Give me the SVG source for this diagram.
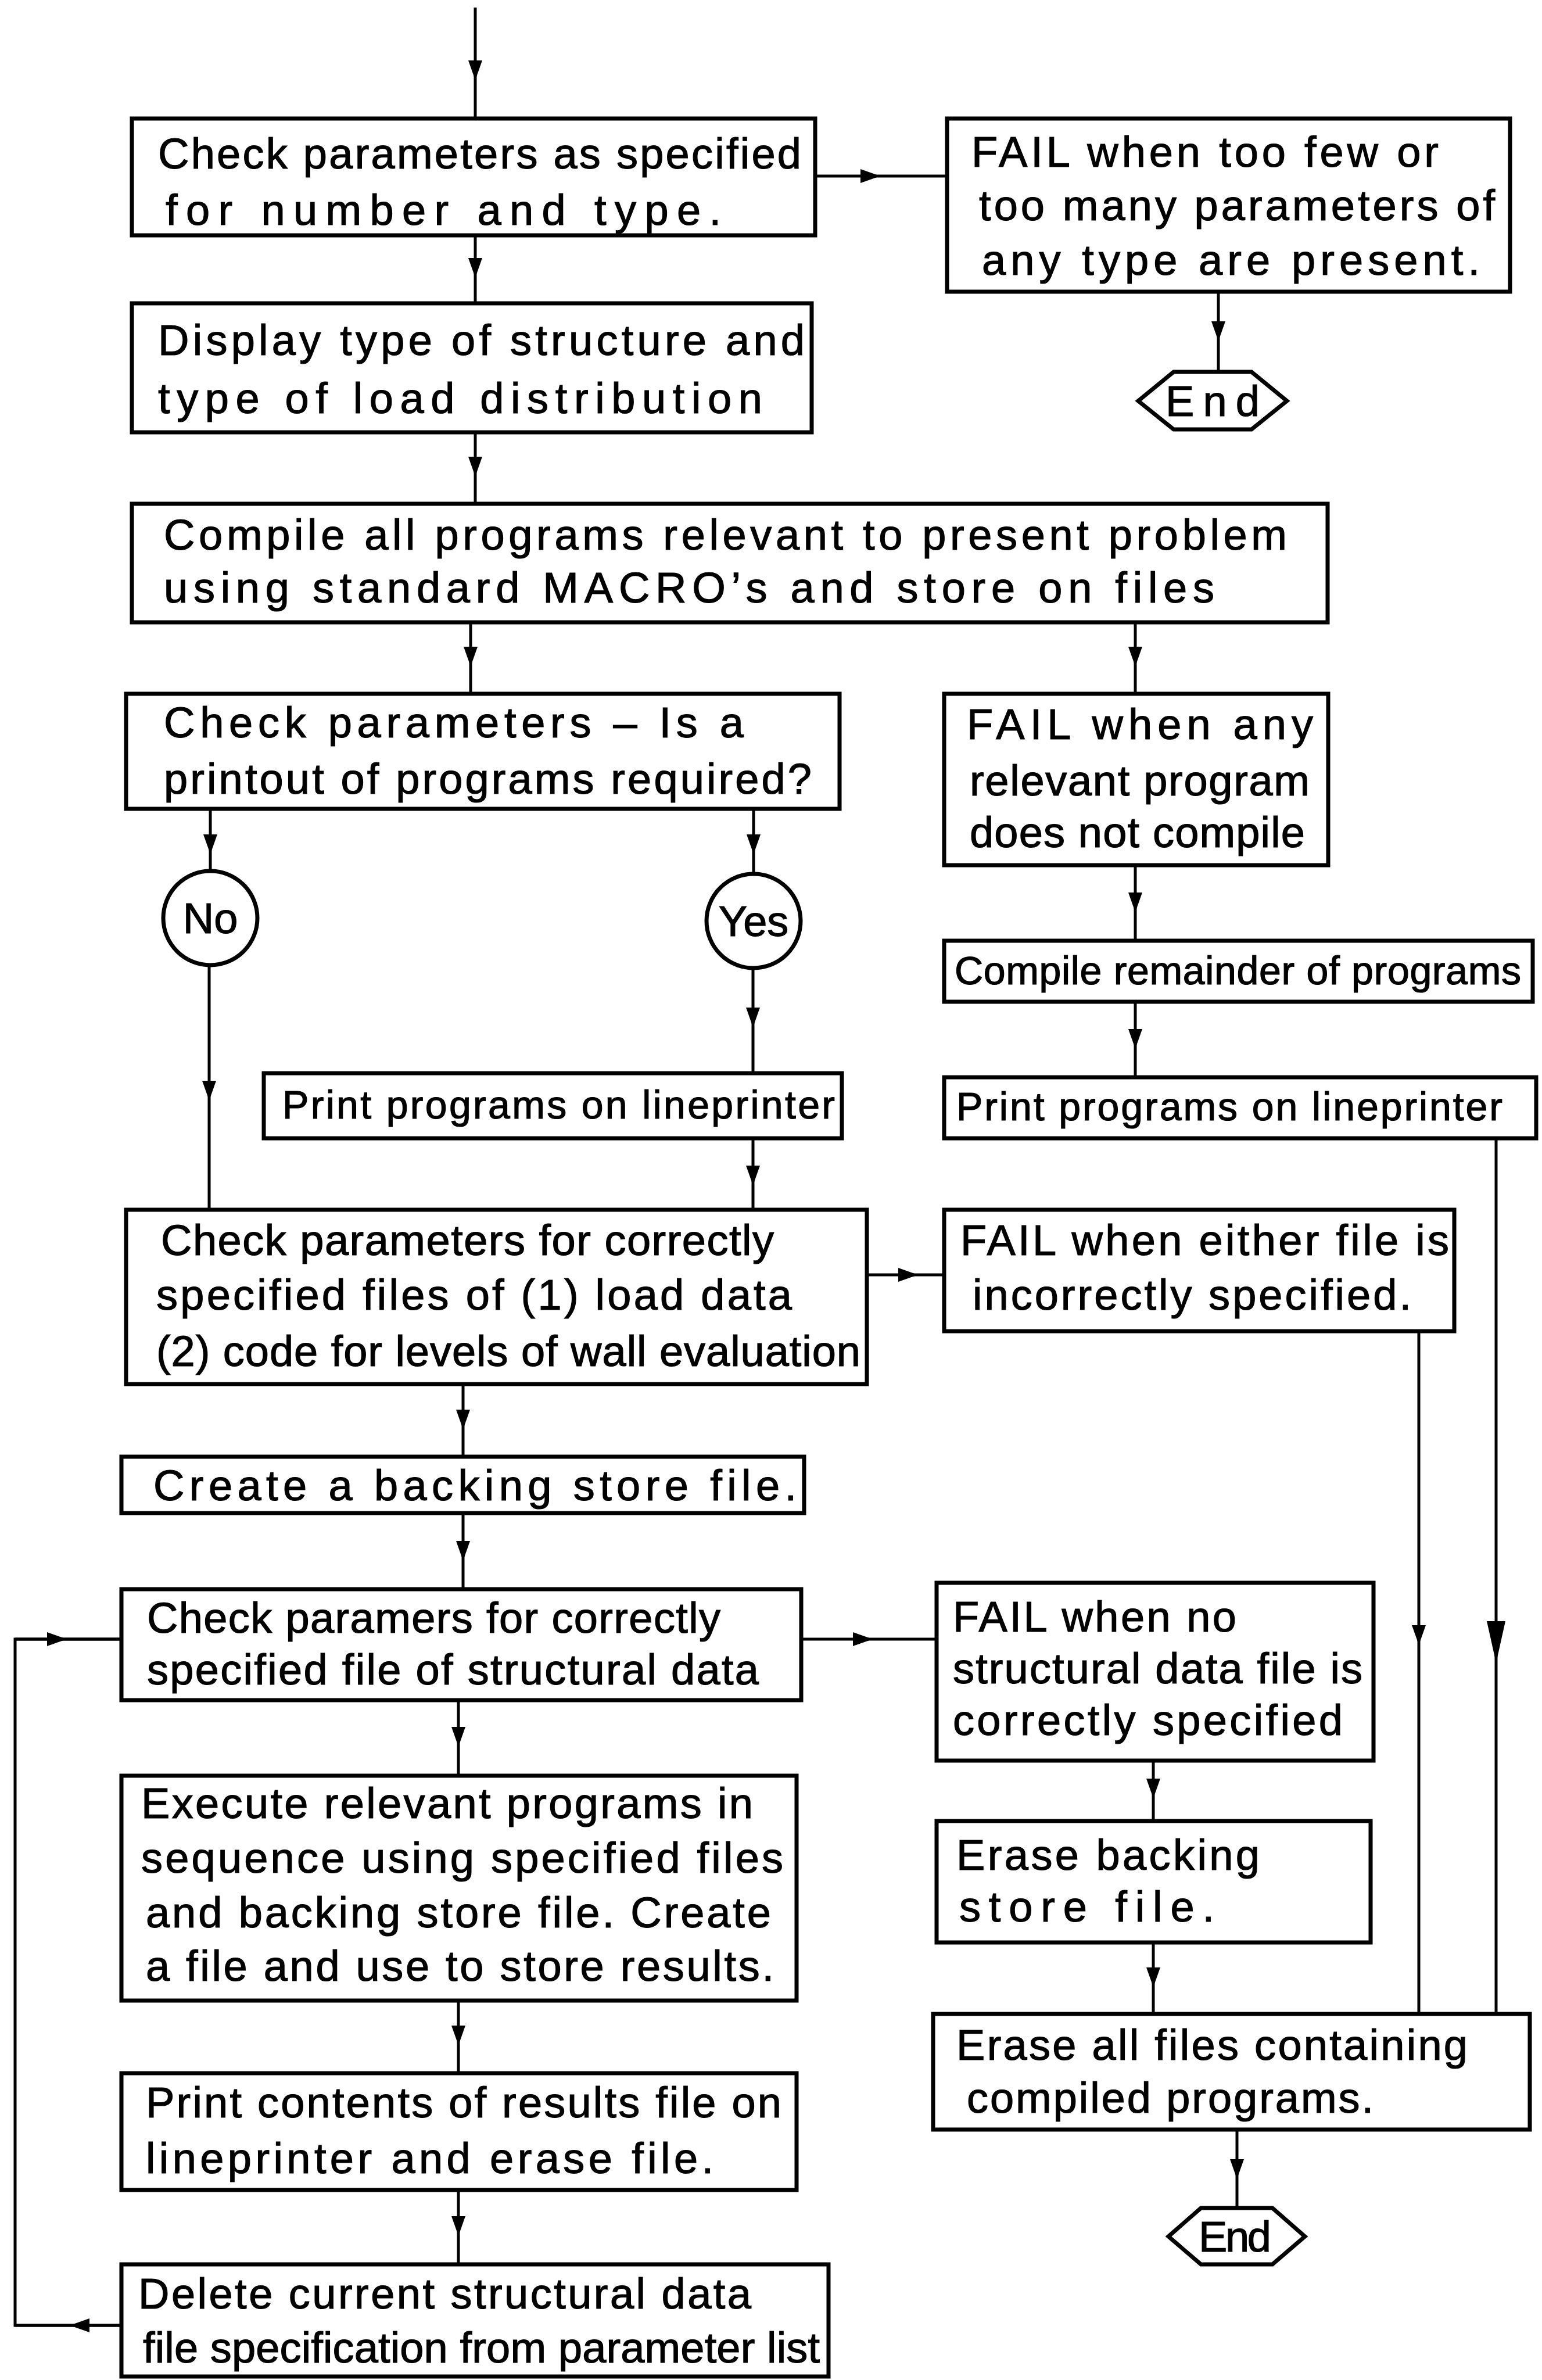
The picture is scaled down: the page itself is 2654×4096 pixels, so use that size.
<svg xmlns="http://www.w3.org/2000/svg" width="2654" height="4096" viewBox="0 0 2654 4096">
<defs>
<marker id="ah" viewBox="0 -13 34 26" markerWidth="34" markerHeight="26" refX="34" refY="0" orient="auto" markerUnits="userSpaceOnUse"><path d="M0,-12 L34,0 L0,12 Z" fill="#000"/></marker>
<marker id="ahw" viewBox="0 -17 72 34" markerWidth="72" markerHeight="34" refX="72" refY="0" orient="auto" markerUnits="userSpaceOnUse"><path d="M0,-16 L72,0 L0,16 Z" fill="#000"/></marker>
<style>
.box{fill:#fff;stroke:#000;stroke-width:7}
.c{fill:none;stroke:#000;stroke-width:5;marker-mid:url(#ah)}
.cw{fill:none;stroke:#000;stroke-width:5;marker-mid:url(#ahw)}
.ln{fill:none;stroke:#000;stroke-width:5}
.t{font-family:"Liberation Sans",Arial,sans-serif;font-size:74px;fill:#000;stroke:#000;stroke-width:1.2}
.s{font-size:68px}
.m{text-anchor:middle}
</style>
</defs>
<rect width="2654" height="4096" fill="#fff"/>
<g id="connectors">
<polyline class="c" points="818,13 818,138 818,204"/>
<polyline class="c" points="818,405 818,478 818,522"/>
<polyline class="c" points="818,744 818,820 818,867"/>
<polyline class="c" points="810,1071 810,1147 810,1194"/>
<polyline class="c" points="1954,1071 1954,1147 1954,1194"/>
<polyline class="c" points="2097,502 2097,587 2097,640"/>
<polyline class="c" points="362,1392 362,1470 362,1499"/>
<polyline class="c" points="360,1661 360,1894 360,2082"/>
<polyline class="c" points="1297,1392 1297,1470 1297,1504"/>
<polyline class="c" points="1296,1666 1296,1768 1296,1847"/>
<polyline class="c" points="1296,1959 1296,2040 1296,2082"/>
<polyline class="c" points="1954,1489 1954,1570 1954,1619"/>
<polyline class="c" points="1954,1724 1954,1805 1954,1854"/>
<polyline class="cw" points="2575,1959 2575,2862 2575,3466"/>
<polyline class="c" points="2442,2291 2442,2831 2442,3466"/>
<polyline class="c" points="797,2382 797,2460 797,2507"/>
<polyline class="c" points="797,2604 797,2686 797,2735"/>
<polyline class="c" points="789,2926 789,3006 789,3056"/>
<polyline class="c" points="789,3443 789,3520 789,3568"/>
<polyline class="c" points="789,3769 789,3848 789,3897"/>
<polyline class="c" points="1985,3030 1985,3095 1985,3134"/>
<polyline class="c" points="1985,3343 1985,3420 1985,3466"/>
<polyline class="c" points="2129,3665 2129,3750 2129,3800"/>
<polyline class="c" points="1403,303 1515,303 1630,303"/>
<polyline class="c" points="1492,2194 1580,2194 1625,2194"/>
<polyline class="c" points="1379,2821 1502,2821 1612,2821"/>
<path class="ln" d="M209,4002 H26 V2821 H209"/>
<polyline class="c" points="26,2821 115,2821 209,2821"/>
<polyline class="c" points="209,4002 120,4002 26,4002"/>
</g>
<g id="check-count">
<rect class="box" x="227" y="204" width="1176" height="201"/>
<text class="t" x="272" y="290" textLength="1107">Check parameters as specified</text>
<text class="t" x="285" y="387" textLength="956">for number and type.</text>
</g>
<g id="fail-count">
<rect class="box" x="1630" y="204" width="969" height="298"/>
<text class="t" x="1672" y="287" textLength="804">FAIL when too few or</text>
<text class="t" x="1685" y="379" textLength="888">too many parameters of</text>
<text class="t" x="1690" y="473" textLength="857">any type are present.</text>
</g>
<g id="end-1">
<polygon class="box" points="1959,690 2020,640 2154,640 2215,690 2154,739 2020,739"/>
<text class="t" x="2006" y="716" textLength="162">End</text>
</g>
<g id="display">
<rect class="box" x="227" y="522" width="1170" height="222"/>
<text class="t" x="272" y="611" textLength="1113">Display type of structure and</text>
<text class="t" x="272" y="711" textLength="1040">type of load distribution</text>
</g>
<g id="compile">
<rect class="box" x="227" y="867" width="2058" height="204"/>
<text class="t" x="282" y="946" textLength="1933">Compile all programs relevant to present problem</text>
<text class="t" x="282" y="1037" textLength="1808">using standard MACRO’s and store on files</text>
</g>
<g id="check-printout">
<rect class="box" x="217" y="1194" width="1228" height="198"/>
<text class="t" x="282" y="1269" textLength="998">Check parameters – Is a</text>
<text class="t" x="282" y="1366" textLength="1115">printout of programs required?</text>
</g>
<g id="fail-compile">
<rect class="box" x="1625" y="1194" width="661" height="295"/>
<text class="t" x="1664" y="1272" textLength="596">FAIL when any</text>
<text class="t" x="1669" y="1369" textLength="585">relevant program</text>
<text class="t" x="1669" y="1458" textLength="577">does not compile</text>
</g>
<g id="no">
<circle class="box" cx="362" cy="1580" r="81"/>
<text class="t m" x="362" y="1606">No</text>
</g>
<g id="yes">
<circle class="box" cx="1297" cy="1585" r="81"/>
<text class="t m" x="1297" y="1611">Yes</text>
</g>
<g id="print-left">
<rect class="box" x="454" y="1847" width="995" height="112"/>
<text class="t s" x="486" y="1925" textLength="951">Print programs on lineprinter</text>
</g>
<g id="compile-remainder">
<rect class="box" x="1625" y="1619" width="1013" height="105"/>
<text class="t s" x="1643" y="1694" textLength="975">Compile remainder of programs</text>
</g>
<g id="print-right">
<rect class="box" x="1625" y="1854" width="1019" height="105"/>
<text class="t s" x="1646" y="1928" textLength="940">Print programs on lineprinter</text>
</g>
<g id="check-files">
<rect class="box" x="217" y="2082" width="1275" height="300"/>
<text class="t" x="277" y="2160" textLength="1055">Check parameters for correctly</text>
<text class="t" x="269" y="2254" textLength="1094">specified files of (1) load data</text>
<text class="t" x="269" y="2351" textLength="1212">(2) code for levels of wall evaluation</text>
</g>
<g id="fail-files">
<rect class="box" x="1625" y="2082" width="878" height="209"/>
<text class="t" x="1653" y="2160" textLength="841">FAIL when either file is</text>
<text class="t" x="1674" y="2254" textLength="755">incorrectly specified.</text>
</g>
<g id="create-backing">
<rect class="box" x="209" y="2507" width="1175" height="97"/>
<text class="t" x="264" y="2582" textLength="1107">Create a backing store file.</text>
</g>
<g id="check-structural">
<rect class="box" x="209" y="2735" width="1170" height="191"/>
<text class="t" x="253" y="2810" textLength="987">Check paramers for correctly</text>
<text class="t" x="253" y="2899" textLength="1053">specified file of structural data</text>
</g>
<g id="fail-structural">
<rect class="box" x="1612" y="2724" width="752" height="306"/>
<text class="t" x="1640" y="2808" textLength="488">FAIL when no</text>
<text class="t" x="1640" y="2897" textLength="705">structural data file is</text>
<text class="t" x="1640" y="2986" textLength="671">correctly specified</text>
</g>
<g id="erase-backing">
<rect class="box" x="1612" y="3134" width="747" height="209"/>
<text class="t" x="1646" y="3218" textLength="522">Erase backing</text>
<text class="t" x="1651" y="3307" textLength="439">store file.</text>
</g>
<g id="erase-all">
<rect class="box" x="1606" y="3466" width="1027" height="199"/>
<text class="t" x="1646" y="3545" textLength="880">Erase all files containing</text>
<text class="t" x="1664" y="3636" textLength="700">compiled programs.</text>
</g>
<g id="end-2">
<polygon class="box" points="2011,3849 2067,3800 2190,3800 2246,3849 2190,3897 2067,3897"/>
<text class="t" x="2063" y="3875" textLength="125">End</text>
</g>
<g id="execute">
<rect class="box" x="209" y="3056" width="1162" height="387"/>
<text class="t" x="243" y="3129" textLength="1053">Execute relevant programs in</text>
<text class="t" x="243" y="3223" textLength="1105">sequence using specified files</text>
<text class="t" x="251" y="3317" textLength="1076">and backing store file. Create</text>
<text class="t" x="251" y="3409" textLength="1081">a file and use to store results.</text>
</g>
<g id="print-results">
<rect class="box" x="209" y="3568" width="1162" height="201"/>
<text class="t" x="251" y="3644" textLength="1094">Print contents of results file on</text>
<text class="t" x="251" y="3740" textLength="977">lineprinter and erase file.</text>
</g>
<g id="delete-spec">
<rect class="box" x="209" y="3897" width="1217" height="193"/>
<text class="t" x="238" y="3973" textLength="1055">Delete current structural data</text>
<text class="t" x="246" y="4066" textLength="1165">file specification from parameter list</text>
</g>
</svg>
